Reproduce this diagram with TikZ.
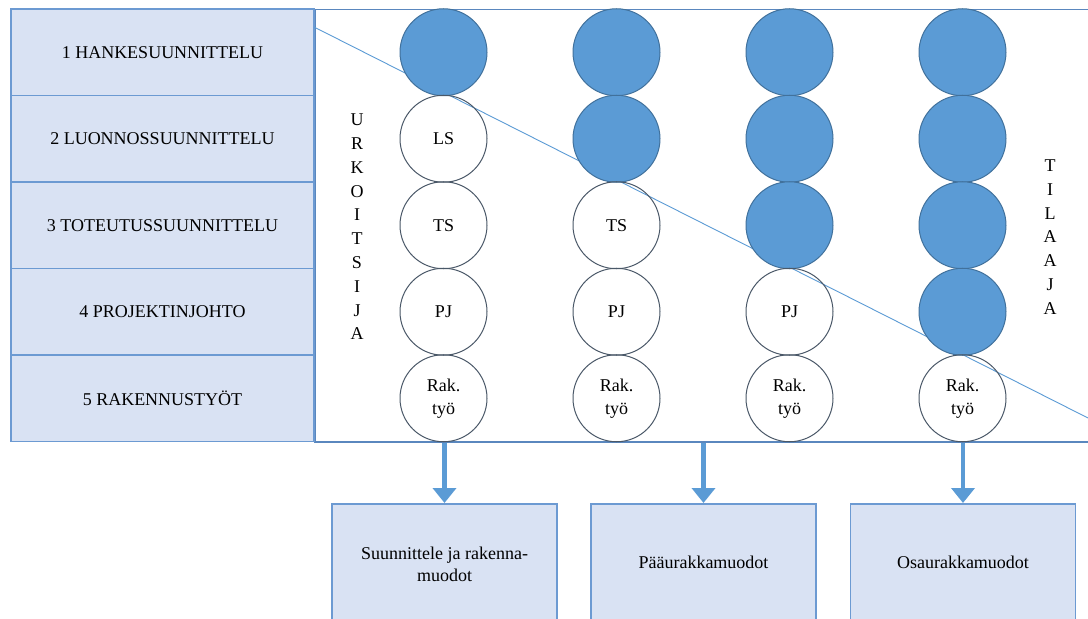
\documentclass[tikz,border=0pt]{standalone}
\usepackage{fontspec}
\setmainfont{Liberation Serif}
\usetikzlibrary{arrows.meta}
\definecolor{phasefill}{HTML}{D9E2F3}
\definecolor{phaseline}{HTML}{6C9AD2}
\definecolor{framecol}{HTML}{5A87BE}
\definecolor{discfill}{HTML}{5B9BD5}
\definecolor{discline}{HTML}{41719C}
\definecolor{ringline}{HTML}{4A5868}
\definecolor{flowcol}{HTML}{5B9BD5}
\begin{document}
\begin{tikzpicture}[x=1bp,y=-1bp,
  every node/.style={font=\fontsize{18bp}{23bp}\selectfont, inner sep=0pt},
  phase/.style={draw=phaseline, line width=1.5bp, fill=phasefill,
    minimum width=303bp, minimum height=86.5bp},
  outcome/.style={draw=phaseline, line width=1.5bp, fill=phasefill,
    minimum width=225bp, minimum height=120bp, anchor=north, align=center,
    font=\fontsize{18bp}{22bp}\selectfont},
  disc/.style={circle, draw=discline, line width=1bp, fill=discfill, minimum size=87bp},
  ring/.style={circle, draw=ringline, line width=1bp, minimum size=87bp, align=center},
  vword/.style={align=center, font=\fontsize{18bp}{23.8bp}\selectfont},
  flow/.style={draw=flowcol, line width=4.5bp,
    -{Triangle[width=23bp,length=15bp]}},
]
\useasboundingbox (0,0) rectangle (1088,619);
\clip (0,0) rectangle (1088,619);

% white field holding the circles
\node[draw=framecol, line width=1.5bp, fill=white, minimum width=778bp,
  minimum height=432bp, anchor=north west] (field) at (314,9) {};

% design and construction phases
\node[phase] (p1) at (162.5,52.25) {1 HANKESUUNNITTELU};
\node[phase] (p2) at (162.5,138.75) {2 LUONNOSSUUNNITTELU};
\node[phase] (p3) at (162.5,225.25) {3 TOTEUTUSSUUNNITTELU};
\node[phase] (p4) at (162.5,311.75) {4 PROJEKTINJOHTO};
\node[phase] (p5) at (162.5,398.25) {5 RAKENNUSTYÖT};

% responsibility split between contractor and client
\coordinate (splitA) at (314,27);
\coordinate (splitB) at (1090,419);
\draw[draw=flowcol, line width=0.9bp] (splitA) -- (splitB);

% circles: filled = client, open = contractor
\foreach \c/\x in {1/443.5,2/616.5,3/789.5,4/962.5} {
  \foreach \r/\y/\t in {1/52.25/{},2/138.75/LS,3/225.25/TS,4/311.75/PJ,5/398.25/{Rak.\\työ}} {
    \ifnum\r>\c
      \node[ring] (c\c r\r) at (\x,\y) {\t};
    \else
      \node[disc] (c\c r\r) at (\x,\y) {};
    \fi
  }
}

\node[vword] (urakoitsija) at (357,227) {U\\R\\K\\O\\I\\T\\S\\I\\J\\A};
\node[vword] (tilaaja) at (1050,237) {T\\I\\L\\A\\A\\J\\A};

% contract forms
\node[outcome] (f1) at (444.5,503) {};
\node[align=center, font=\fontsize{18bp}{22bp}\selectfont] (t1) at (444.5,564) {Suunnittele ja rakenna-\\muodot};
\node[outcome] (f2) at (703.5,503) {};
\node (t2) at (703.5,562) {Pääurakkamuodot};
\node[outcome] (f3) at (963,503) {};
\node (t3) at (963,562) {Osaurakkamuodot};

\draw[flow] (f1.north |- field.south) -- (f1.north);
\draw[flow] (f2.north |- field.south) -- (f2.north);
\draw[flow] (f3.north |- field.south) -- (f3.north);
\end{tikzpicture}
\end{document}
